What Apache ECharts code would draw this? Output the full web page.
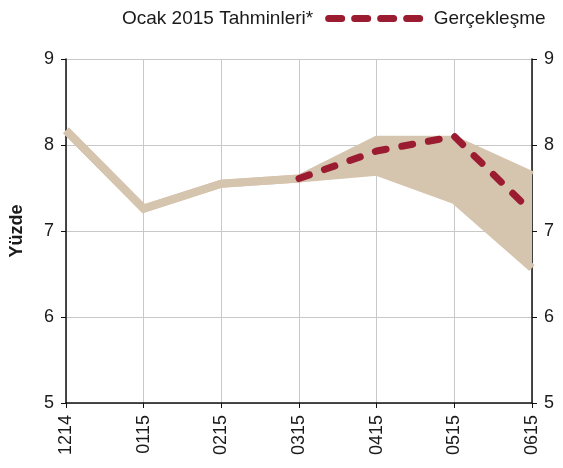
<!DOCTYPE html>
<html>
<head>
<meta charset="utf-8">
<script src="https://cdn.jsdelivr.net/npm/echarts@6/dist/echarts.min.js"></script>
<style>
    html, body { margin: 0; padding: 0; background: #fff; }
    #container { width: 563px; height: 468px; }
</style>
</head>
<body>
<div id="container"></div>
<script type="text/javascript">
    // veriler
    var months = ['1214', '0115', '0215', '0315', '0415', '0515', '0615'];
    var bandLow = [8.17, 7.26, 7.55, 7.61, 7.69, 7.36, 6.57];
    var bandHigh = [8.17, 7.26, 7.55, 7.61, 8.06, 8.06, 7.65];
    var actual = [null, null, null, 7.61, 7.93, 8.10, 7.22];
    var yTicks = [5, 6, 7, 8, 9];

    var bandName = 'Ocak 2015 Tahminleri*';
    var actualName = 'Gerçekleşme';
    var tan = '#d6c5ae';
    var red = '#9b1b30';
    var font = 'Liberation Sans, Arial, sans-serif';

    // ust sinir - alt sinir (stack icin)
    var bandDiff = bandHigh.map(function (v, i) {
        return +(v - bandLow[i]).toFixed(2);
    });

    var yAxisBase = {
        type: 'value',
        min: yTicks[0],
        max: yTicks[yTicks.length - 1],
        interval: 1,
        axisLine: { show: true, lineStyle: { color: '#111', width: 1.5 } },
        axisTick: { show: true, length: 5, lineStyle: { color: '#111' } },
        axisLabel: { color: '#1a1a1a', fontSize: 18, fontFamily: font, margin: 12 }
    };

    var myChart = echarts.init(document.getElementById('container'));
    var option = {
        animation: false,
        grid: { left: 65, right: 31, top: 59, bottom: 65 },
        legend: {
            left: 12,
            top: 4,
            itemWidth: 100,
            itemHeight: 8,
            itemGap: 12,
            selectedMode: false,
            textStyle: { color: '#1a1a1a', fontSize: 19, fontFamily: font },
            data: [
                { name: bandName, icon: 'rect', itemStyle: { opacity: 0 } },
                {
                    name: actualName,
                    itemStyle: { opacity: 0 },
                    lineStyle: { color: red, width: 7, type: [13, 13], cap: 'round' }
                }
            ]
        },
        xAxis: {
            type: 'category',
            data: months,
            boundaryGap: false,
            axisLine: { lineStyle: { color: '#111', width: 1.5 } },
            axisTick: { show: true, length: 5, lineStyle: { color: '#111' } },
            axisLabel: { rotate: 90, color: '#1a1a1a', fontSize: 18, fontFamily: font, margin: 12 },
            splitLine: { show: true, lineStyle: { color: '#c8c8c8', width: 1 } }
        },
        yAxis: [
            Object.assign({}, yAxisBase, {
                position: 'left',
                name: 'Yüzde',
                nameLocation: 'middle',
                nameGap: 40,
                nameRotate: 90,
                nameTextStyle: { color: '#1a1a1a', fontSize: 18, fontWeight: 'bold', fontFamily: font },
                splitLine: { show: true, lineStyle: { color: '#c8c8c8', width: 1 } }
            }),
            Object.assign({}, yAxisBase, {
                position: 'right',
                splitLine: { show: false }
            })
        ],
        series: [
            {
                name: 'alt',
                type: 'line',
                stack: 'band',
                data: bandLow,
                symbol: 'none',
                lineStyle: { color: tan, width: 8, join: 'miter' },
                z: 2
            },
            {
                name: bandName,
                type: 'line',
                stack: 'band',
                data: bandDiff,
                symbol: 'none',
                lineStyle: { color: tan, width: 8, join: 'miter' },
                areaStyle: { color: tan, opacity: 1 },
                itemStyle: { color: tan },
                z: 2
            },
            {
                name: actualName,
                type: 'line',
                data: actual,
                symbol: 'none',
                connectNulls: false,
                lineStyle: { color: red, width: 7, type: [11, 16], cap: 'round' },
                itemStyle: { color: red },
                z: 3
            }
        ]
    };
    myChart.setOption(option);
</script>
</body>
</html>
